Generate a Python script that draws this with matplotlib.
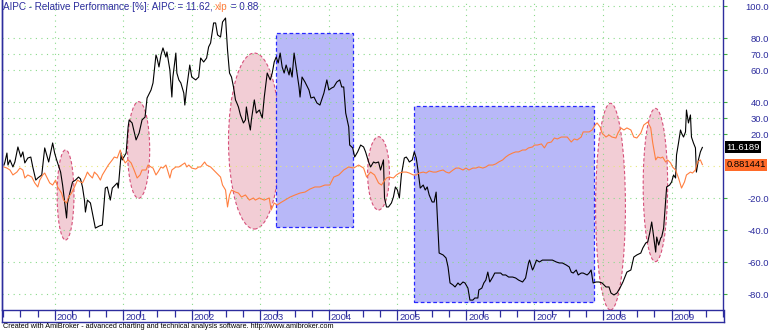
import numpy as np
import matplotlib.pyplot as plt
from matplotlib.patches import Ellipse, Rectangle
from matplotlib.lines import Line2D
import matplotlib.transforms as mtransforms

plt.rcParams['font.family'] = ['Liberation Sans', 'DejaVu Sans']

# AIPC relative performance [%] (time in fractional years)
aipc_t = [1999.261, 1999.275, 1999.304, 1999.319, 1999.348, 1999.391, 1999.420, 1999.464, 1999.507, 1999.536, 1999.565, 1999.609, 1999.652, 1999.681, 1999.725, 1999.754, 1999.812, 1999.855, 1999.884, 1999.913, 1999.971,
          2000.000, 2000.029, 2000.087, 2000.116, 2000.174, 2000.188, 2000.232, 2000.261, 2000.304, 2000.348, 2000.377, 2000.406, 2000.435, 2000.449, 2000.478, 2000.522, 2000.551, 2000.594, 2000.652, 2000.696, 2000.739, 2000.768, 2000.812, 2000.841, 2000.884, 2000.913, 2000.928, 2000.971, 2000.986,
          2001.043, 2001.072, 2001.087, 2001.130, 2001.188, 2001.232, 2001.275, 2001.319, 2001.348, 2001.406, 2001.435, 2001.478, 2001.493, 2001.522, 2001.551, 2001.580, 2001.623, 2001.638, 2001.681, 2001.710, 2001.725, 2001.768, 2001.783, 2001.812, 2001.841, 2001.884, 2001.899, 2001.928, 2001.971,
          2002.000, 2002.058, 2002.101, 2002.130, 2002.174, 2002.217, 2002.246, 2002.275, 2002.319, 2002.348, 2002.377, 2002.420, 2002.449, 2002.493, 2002.522, 2002.551, 2002.580, 2002.609, 2002.638, 2002.652, 2002.681, 2002.710, 2002.754, 2002.783, 2002.797, 2002.826, 2002.855, 2002.870, 2002.913, 2002.942, 2002.986,
          2003.029, 2003.058, 2003.101, 2003.145, 2003.174, 2003.203, 2003.232, 2003.261, 2003.290, 2003.319, 2003.348, 2003.377, 2003.420, 2003.435, 2003.464, 2003.493, 2003.522, 2003.565, 2003.580, 2003.609, 2003.652, 2003.710, 2003.739, 2003.783, 2003.826, 2003.870, 2003.928, 2003.971,
          2004.000, 2004.043, 2004.072, 2004.116, 2004.159, 2004.188, 2004.217, 2004.246, 2004.290, 2004.304, 2004.348, 2004.377, 2004.420, 2004.464, 2004.507, 2004.536, 2004.580, 2004.609, 2004.652, 2004.681, 2004.725, 2004.754, 2004.797, 2004.812, 2004.841, 2004.870, 2004.913, 2004.942, 2004.971,
          2005.000, 2005.029, 2005.058, 2005.101, 2005.130, 2005.159, 2005.174, 2005.217, 2005.246, 2005.275, 2005.304, 2005.333, 2005.377, 2005.406, 2005.435, 2005.464, 2005.507, 2005.536, 2005.565, 2005.580, 2005.594, 2005.609, 2005.667, 2005.710, 2005.739, 2005.768, 2005.812, 2005.841, 2005.884, 2005.913, 2005.957, 2005.986,
          2006.029, 2006.058, 2006.101, 2006.130, 2006.174, 2006.188, 2006.232, 2006.261, 2006.290, 2006.319, 2006.348, 2006.391, 2006.420, 2006.464, 2006.507, 2006.536, 2006.580, 2006.623, 2006.681, 2006.725, 2006.768, 2006.826, 2006.870, 2006.913, 2006.928, 2006.971, 2006.986,
          2007.029, 2007.072, 2007.116, 2007.188, 2007.261, 2007.319, 2007.362, 2007.406, 2007.464, 2007.507, 2007.536, 2007.565, 2007.609, 2007.638, 2007.681, 2007.710, 2007.768, 2007.797, 2007.826, 2007.855, 2007.899, 2007.942, 2007.986,
          2008.043, 2008.087, 2008.116, 2008.159, 2008.203, 2008.246, 2008.290, 2008.348, 2008.406, 2008.449, 2008.493, 2008.551, 2008.580, 2008.623, 2008.652, 2008.681, 2008.710, 2008.739, 2008.768, 2008.783, 2008.812, 2008.841, 2008.855, 2008.884, 2008.913, 2008.928, 2008.971,
          2009.000, 2009.029, 2009.058, 2009.072, 2009.101, 2009.130, 2009.145, 2009.174, 2009.203, 2009.217, 2009.246, 2009.275, 2009.290, 2009.319, 2009.348, 2009.362, 2009.391, 2009.420, 2009.449]
aipc_v = [0.6, 2.5, 8.1, 0.6, 3.8, -0.6, 2.5, 11.9, 5.6, 8.8, 1.9, 5.0, 5.6, -0.6, -8.8, -7.5, -5.6, 11.3, 6.9, 2.5, 14.4,
          8.1, 3.8, -3.8, -11.9, -32.5, -23.1, -15.0, -10.0, -8.8, -6.9, -8.1, -13.1, -21.3, -28.8, -21.3, -23.1, -29.4, -38.8, -37.5, -36.9, -13.8, -13.1, -21.3, -13.8, -11.9, -10.6, -13.8, 8.1, 3.8,
          8.1, 24.4, 28.8, 26.9, 16.3, 20.6, 28.8, 30.6, 42.5, 47.5, 51.9, 69.4, 67.5, 61.9, 69.4, 73.8, 68.1, 71.3, 60.0, 43.1, 55.6, 70.6, 58.1, 53.8, 51.9, 45.6, 38.1, 49.4, 63.1,
          55.6, 53.8, 55.6, 67.5, 65.0, 67.5, 74.4, 76.9, 89.4, 89.4, 81.9, 80.6, 90.0, 92.5, 72.5, 58.1, 55.6, 49.4, 41.3, 40.0, 36.9, 31.9, 26.9, 28.8, 36.9, 28.8, 22.5, 28.8, 41.3, 33.1, 35.0,
          30.0, 43.1, 58.1, 53.8, 58.1, 65.0, 68.1, 64.4, 70.6, 61.9, 58.1, 63.1, 56.9, 61.3, 55.6, 70.6, 61.9, 49.4, 43.1, 55.6, 52.5, 47.5, 42.5, 43.1, 39.4, 38.1, 45.6, 53.8,
          47.5, 48.8, 49.4, 52.5, 53.8, 49.4, 49.4, 33.1, 24.4, 13.1, 11.3, 5.6, 8.8, 13.1, 11.9, 8.8, 2.5, -0.6, 2.5, 1.9, 2.5, -2.5, 3.8, -20.0, -25.6, -25.6, -23.1, -19.4, -13.1,
          -15.0, -20.0, -5.6, 5.0, 5.6, 3.8, 2.5, 3.8, 8.8, 5.0, -3.8, -13.8, -11.9, -15.0, -13.1, -18.1, -22.5, -22.5, -16.3, -29.4, -41.9, -54.4, -55.6, -57.5, -63.1, -73.1, -74.4, -75.6, -73.1, -74.4, -72.5, -73.1,
          -76.3, -83.8, -83.8, -82.5, -82.5, -77.5, -76.3, -73.1, -71.3, -66.3, -72.5, -69.4, -66.9, -66.9, -66.9, -68.1, -68.1, -69.4, -69.4, -70.0, -71.3, -72.5, -70.0, -60.6, -58.8, -65.0, -63.8,
          -58.8, -60.0, -58.8, -58.8, -58.8, -60.0, -60.6, -60.6, -61.9, -63.1, -66.3, -66.9, -65.0, -68.1, -66.9, -66.9, -68.1, -66.9, -65.0, -73.1, -72.5, -72.5, -73.1,
          -75.6, -75.6, -79.4, -80.6, -79.4, -76.3, -72.5, -66.3, -65.0, -56.9, -55.6, -54.4, -51.3, -48.1, -47.5, -41.9, -35.0, -44.4, -53.8, -44.4, -49.4, -45.0, -44.4, -38.8, -21.3, -13.1, -11.9,
          -10.0, -5.6, -7.5, 6.9, 14.4, 22.5, 20.6, 18.1, 21.3, 35.0, 26.9, 31.9, 18.1, 14.4, 11.3, -3.8, 3.8, 8.8, 11.62]

# xlp relative performance [%]
xlp_t = [1999.261, 1999.304, 1999.348, 1999.391, 1999.449, 1999.493, 1999.536, 1999.565, 1999.609, 1999.667, 1999.710, 1999.754, 1999.783, 1999.826, 1999.855, 1999.884, 1999.928, 1999.971,
         2000.014, 2000.043, 2000.101, 2000.130, 2000.174, 2000.203, 2000.246, 2000.290, 2000.333, 2000.377, 2000.406, 2000.449, 2000.478, 2000.507, 2000.551, 2000.580, 2000.623, 2000.667, 2000.696, 2000.739, 2000.783, 2000.841, 2000.870, 2000.913, 2000.957, 2000.986,
         2001.029, 2001.072, 2001.116, 2001.159, 2001.203, 2001.246, 2001.275, 2001.333, 2001.362, 2001.406, 2001.435, 2001.478, 2001.507, 2001.551, 2001.580, 2001.623, 2001.638, 2001.681, 2001.710, 2001.768, 2001.812, 2001.855, 2001.899, 2001.928, 2001.957,
         2002.000, 2002.058, 2002.101, 2002.130, 2002.188, 2002.217, 2002.275, 2002.319, 2002.362, 2002.420, 2002.449, 2002.493, 2002.522, 2002.551, 2002.580, 2002.638, 2002.681, 2002.725, 2002.783, 2002.841, 2002.899, 2002.928, 2002.986,
         2003.058, 2003.130, 2003.159, 2003.203, 2003.246, 2003.290, 2003.362, 2003.435, 2003.507, 2003.580, 2003.652, 2003.725, 2003.797, 2003.870, 2003.942,
         2004.014, 2004.072, 2004.145, 2004.217, 2004.290, 2004.362, 2004.435, 2004.507, 2004.551, 2004.609, 2004.667, 2004.725, 2004.768, 2004.797, 2004.841, 2004.884, 2004.942, 2004.986,
         2005.029, 2005.087, 2005.130, 2005.174, 2005.232, 2005.275, 2005.319, 2005.377, 2005.420, 2005.464, 2005.522, 2005.565, 2005.609, 2005.667, 2005.710, 2005.754, 2005.812, 2005.855, 2005.899, 2005.957,
         2006.000, 2006.043, 2006.101, 2006.145, 2006.188, 2006.246, 2006.290, 2006.333, 2006.391, 2006.435, 2006.478, 2006.536, 2006.580, 2006.623, 2006.681, 2006.725, 2006.768, 2006.826, 2006.870, 2006.913, 2006.971,
         2007.000, 2007.043, 2007.101, 2007.145, 2007.188, 2007.246, 2007.290, 2007.333, 2007.391, 2007.435, 2007.478, 2007.536, 2007.580, 2007.623, 2007.681, 2007.710, 2007.754, 2007.797, 2007.841, 2007.884, 2007.913, 2007.957, 2007.986,
         2008.043, 2008.087, 2008.130, 2008.188, 2008.217, 2008.261, 2008.304, 2008.348, 2008.406, 2008.449, 2008.493, 2008.551, 2008.594, 2008.652, 2008.696, 2008.725, 2008.768, 2008.797, 2008.841, 2008.870, 2008.913, 2008.942, 2008.986,
         2009.014, 2009.058, 2009.101, 2009.145, 2009.188, 2009.217, 2009.275, 2009.304, 2009.348, 2009.377, 2009.420, 2009.449]
xlp_v = [-0.6, -1.3, -2.5, -5.6, -3.8, -1.3, -2.5, -7.5, -5.6, -6.9, -10.6, -13.1, -8.8, -5.6, -4.4, -6.9, -10.6, -11.9,
         -8.8, -13.1, -16.9, -21.3, -23.1, -19.4, -16.9, -13.1, -8.8, -10.0, -10.6, -6.9, -3.8, -5.6, -7.5, -3.8, -5.6, -8.8, -5.6, -2.5, 0.6, 3.8, 5.6, 5.0, 10.0, 5.6,
         1.9, 3.8, 1.9, -2.5, -7.5, -5.6, -2.5, -2.5, 0.6, -0.6, -1.3, -5.6, -3.8, -0.6, -1.3, 0.6, -1.3, -7.5, -2.5, -0.6, -0.6, 0.6, 1.9, -0.6, 0.6,
         -1.3, -1.9, -0.6, -0.6, 2.5, 0.6, -0.6, -2.5, -4.4, -6.9, -11.9, -15.0, -25.6, -18.1, -15.0, -16.3, -16.9, -19.4, -18.1, -21.3, -20.0, -21.3, -20.0,
         -21.3, -20.0, -27.5, -23.1, -24.4, -23.1, -21.3, -19.4, -18.1, -16.9, -16.3, -14.4, -13.1, -13.1, -11.9,
         -11.9, -6.9, -5.6, -2.5, -0.6, -1.3, 0.6, -1.3, -6.9, -3.8, -5.6, -10.6, -11.9, -10.0, -7.5, -6.9, -7.5, -5.6,
         -4.4, -3.8, -3.8, -4.4, -5.6, -5.6, -4.4, -3.8, -4.4, -3.1, -3.8, -3.8, -3.1, -2.5, -3.8, -4.4, -2.5, -1.3, -1.3, -2.5,
         -1.3, -2.5, -1.3, -1.3, -0.6, -1.3, -0.6, 0.6, 0.6, 1.3, 2.5, 3.8, 5.6, 6.9, 8.1, 8.8, 8.8, 10.0, 10.0, 11.3, 11.9,
         13.1, 13.1, 13.8, 11.3, 14.4, 15.0, 17.5, 16.9, 18.1, 18.1, 18.1, 15.0, 16.9, 16.3, 18.1, 21.3, 21.3, 21.3, 22.5, 25.6, 26.9, 24.4, 20.6,
         18.1, 19.4, 18.1, 17.5, 20.6, 23.8, 22.5, 23.8, 22.5, 18.1, 17.5, 20.6, 25.6, 27.5, 23.8, 14.4, 3.8, 5.6, 5.0, 5.6, 2.5, 3.8, 1.9,
         -0.6, -2.5, -7.5, -13.8, -10.0, -5.6, -3.8, -4.4, -2.5, 2.5, 3.8, 0.88]

aipc_last = 11.6189
xlp_last = 0.881441

y_ticks = [100, 80, 70, 60, 40, 30, 20, -20, -40, -60, -80]
years = list(range(2000, 2010))

# highlighted periods: (centre year, centre value, width in years, height in %)
ellipses = [(2000.159, -18.1, 0.246, 56.3),
            (2001.225, 10.0, 0.323, 60.4),
            (2002.913, 15.6, 0.754, 110.0),
            (2004.725, -4.6, 0.319, 45.8),
            (2008.109, -25.4, 0.435, 129.2),
            (2008.764, -11.9, 0.357, 95.8)]
# (start year, end year, low, high)
boxes = [(2003.236, 2004.348, -37.9, 83.3),
         (2005.242, 2007.870, -85.2, 37.5)]

NAVY = '#2d2d9e'
GRID = '#8ada8a'
ORANGE = '#ff7f3f'
W, H = 770, 332

fig = plt.figure(figsize=(W / 100, H / 100), dpi=100)
ax = fig.add_axes([2 / W, 22 / H, 721 / W, 310 / H])
ax.set_xlim(1999.232, 2009.652)
ax.set_ylim(-90, 103.75)

for t, v, w, h in ellipses:
    ax.add_patch(Ellipse((t, v), w, h, facecolor='#f2cdd5', edgecolor='#d6507a',
                         ls=(0, (3, 2)), lw=0.8, zorder=1))
for t0, t1, lo, hi in boxes:
    ax.add_patch(Rectangle((t0, lo), t1 - t0, hi - lo, facecolor='#b8b8f8',
                           edgecolor='#2828ff', ls=(0, (3, 2)), lw=0.9, zorder=1))

for yv in y_ticks:
    ax.axhline(yv, color=GRID, lw=0.8, ls=(0, (1, 4)), zorder=2)
ax.axhline(0, color='#e6e67a', lw=0.8, ls=(0, (1, 4)), zorder=2)
for yr in years:
    ax.axvline(yr, color=GRID, lw=0.8, ls=(0, (1, 4)), zorder=2)

ax.plot(aipc_t, aipc_v, color='black', lw=0.8, zorder=3)
ax.plot(xlp_t, xlp_v, color=ORANGE, lw=0.8, zorder=4)

ax.spines['top'].set_visible(False)
for s in ['left', 'right', 'bottom']:
    ax.spines[s].set_color(NAVY)
    ax.spines[s].set_linewidth(1.0)

# right value axis
ax.yaxis.tick_right()
ax.set_yticks(y_ticks)
ax.set_yticklabels([f'{v:.1f}' for v in y_ticks])
ax.tick_params(axis='y', length=3, width=0.8, color='#40b040', labelcolor=NAVY,
               labelsize=6.8, pad=30)
for lbl in ax.get_yticklabels():
    lbl.set_horizontalalignment('right')

# time axis: quarter ticks, year labels right of the tick
ax.set_xticks(years)
ax.set_xticklabels([])
ax.set_xticks([y + q for y in range(1999, 2010) for q in (0.25, 0.5, 0.75)], minor=True)
ax.tick_params(axis='x', which='major', length=7, width=0.9, color=NAVY)
ax.tick_params(axis='x', which='minor', length=5, width=0.9, color=NAVY)
lab_tr = ax.get_xaxis_transform()
for yr in years:
    ax.text(yr + 0.03, -7 / 310, str(yr), transform=lab_tr, ha='left', va='center',
            fontsize=6.8, color=NAVY)

# last value boxes
ax.annotate(f'{aipc_last}', xy=(1, aipc_last), xycoords=('axes fraction', 'data'),
            xytext=(2.5, 0), textcoords='offset points', ha='left', va='center',
            fontsize=6.8, color='white', annotation_clip=False,
            bbox=dict(boxstyle='square,pad=0.15', fc='black', ec='none'))
ax.annotate(f'{xlp_last}', xy=(1, xlp_last), xycoords=('axes fraction', 'data'),
            xytext=(2.5, 0), textcoords='offset points', ha='left', va='center',
            fontsize=6.8, color='black', annotation_clip=False,
            bbox=dict(boxstyle='square,pad=0.15', fc='#ff6a28', ec='none'))

# title in three colours
t1 = fig.text(3 / W, 1 - 7 / H, 'AIPC - Relative Performance [%]: AIPC = 11.62, ',
              ha='left', va='center', fontsize=7.1, color=NAVY)
t2 = ax.annotate('xlp', xy=(1, 0), xycoords=t1, ha='left', va='bottom',
                 fontsize=7.1, color=ORANGE)
ax.annotate(' = 0.88', xy=(1, 0), xycoords=t2, ha='left', va='bottom',
            fontsize=7.1, color=NAVY)

# frame lines around the time strip
fig.add_artist(Line2D([2 / W, 2 / W], [10 / H, 1], color=NAVY, lw=1.0))
fig.add_artist(Line2D([723.5 / W, 723.5 / W], [10 / H, 22 / H], color=NAVY, lw=1.0))
fig.add_artist(Line2D([2 / W, 723.5 / W], [10 / H, 10 / H], color=NAVY, lw=1.0))

fig.text(3 / W, 5 / H, 'Created with AmiBroker - advanced charting and technical analysis software. http://www.amibroker.com',
         ha='left', va='center', fontsize=5.2, color='black')

fig.savefig('out.png', dpi=100)
